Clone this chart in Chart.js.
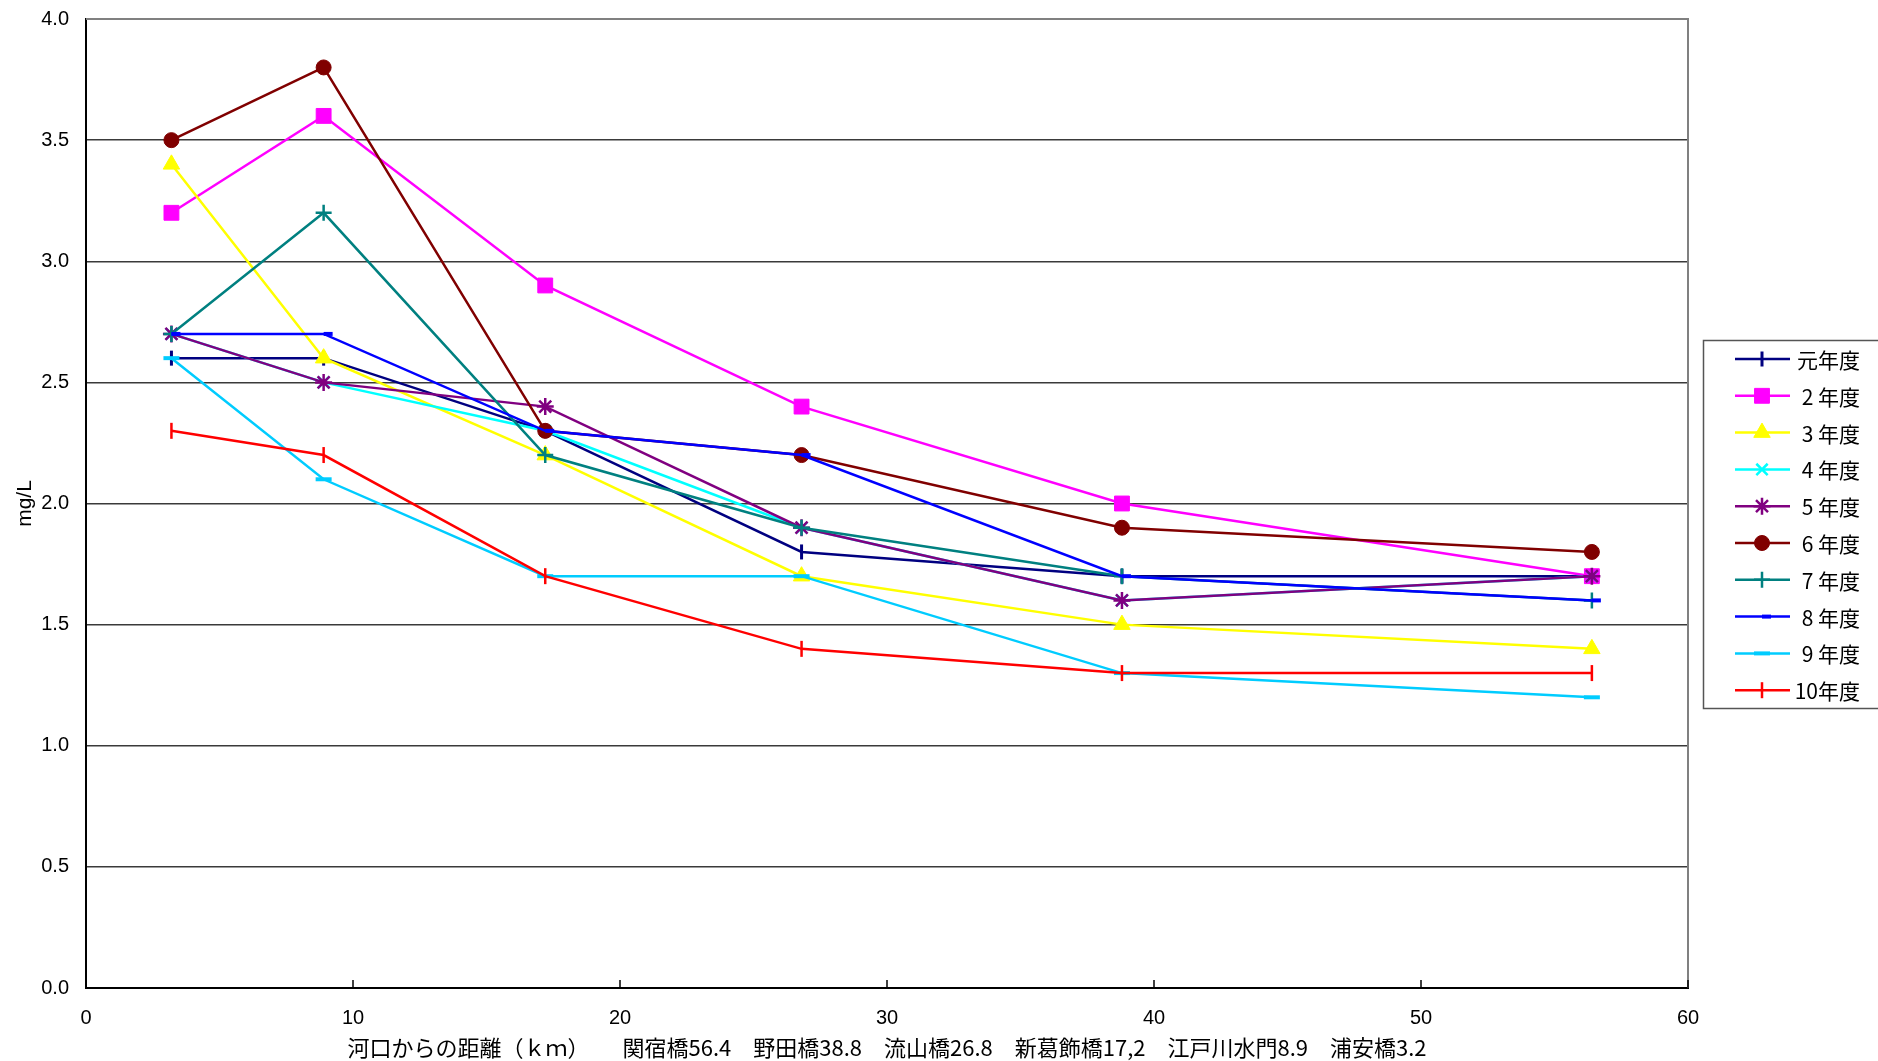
<!DOCTYPE html>
<html><head><meta charset="utf-8">
<script src="https://cdn.jsdelivr.net/npm/chart.js@4/dist/chart.umd.min.js"></script>
<style>html,body{margin:0;padding:0;background:#fff;}canvas{display:block;}</style>
</head><body>
<canvas id="c" width="1878" height="1061"></canvas>
<script>
// distance from river mouth (km) for each station
const distances = [3.2, 8.9, 17.2, 26.8, 38.8, 56.4];
const seriesNames = ['元年度', '2 年度', '3 年度', '4 年度', '5 年度', '6 年度', '7 年度', '8 年度', '9 年度', '10年度'];
const y01 = [2.6, 2.6, 2.3, 1.8, 1.7, 1.7];
const y02 = [3.2, 3.6, 2.9, 2.4, 2.0, 1.7];
const y03 = [3.4, 2.6, 2.2, 1.7, 1.5, 1.4];
const y04 = [2.7, 2.5, 2.3, 1.9, 1.6, 1.7];
const y05 = [2.7, 2.5, 2.4, 1.9, 1.6, 1.7];
const y06 = [3.5, 3.8, 2.3, 2.2, 1.9, 1.8];
const y07 = [2.7, 3.2, 2.2, 1.9, 1.7, 1.6];
const y08 = [2.7, 2.7, 2.3, 2.2, 1.7, 1.6];
const y09 = [2.6, 2.1, 1.7, 1.7, 1.3, 1.2];
const y10 = [2.3, 2.2, 1.7, 1.4, 1.3, 1.3];
const seriesValues = [y01, y02, y03, y04, y05, y06, y07, y08, y09, y10];
const yAxisTitle = 'mg/L';
const xAxisTitle = '河口からの距離（ｋｍ）　　関宿橋56.4　野田橋38.8　流山橋26.8　新葛飾橋17,2　江戸川水門8.9　浦安橋3.2';

const colors = ['#000080', '#FF00FF', '#FFFF00', '#00FFFF', '#800080', '#800000', '#008080', '#0000FF', '#00CCFF', '#FF0000'];
const markers = [
  {pointStyle: 'line', rotation: 90, radius: 7.5, bw: 3},
  {pointStyle: 'rect', rotation: 0, radius: 10.5, bw: 1},
  {pointStyle: 'triangle', rotation: 0, radius: 9.5, bw: 1},
  {pointStyle: 'crossRot', rotation: 0, radius: 8, bw: 2.5},
  {pointStyle: 'star', rotation: 0, radius: 8.5, bw: 2.5},
  {pointStyle: 'circle', rotation: 0, radius: 7.5, bw: 1},
  {pointStyle: 'cross', rotation: 0, radius: 8, bw: 2.5},
  {pointStyle: 'dash', rotation: 0, radius: 9, bw: 4},
  {pointStyle: 'line', rotation: 0, radius: 8, bw: 4},
  {pointStyle: 'line', rotation: 90, radius: 8, bw: 2.5}
];

const N = seriesNames.length;
const datasets = seriesNames.map((name, i) => ({
  label: name,
  data: distances.map((d, j) => ({x: d, y: seriesValues[i][j]})),
  borderColor: colors[i],
  backgroundColor: colors[i],
  borderWidth: 2.5,
  showLine: true,
  tension: 0,
  pointStyle: markers[i].pointStyle,
  rotation: markers[i].rotation,
  pointRadius: markers[i].radius,
  pointBorderWidth: markers[i].bw,
  pointBorderColor: colors[i],
  pointBackgroundColor: colors[i],
  order: N - 1 - i
}));

const framePlugin = {
  id: 'frame',
  beforeDatasetsDraw(chart) {
    const {ctx, chartArea: a, scales: {x}} = chart;
    ctx.save();
    ctx.strokeStyle = '#808080';
    ctx.lineWidth = 2;
    ctx.beginPath();
    ctx.moveTo(a.left, a.top);
    ctx.lineTo(a.right, a.top);
    ctx.lineTo(a.right, a.bottom);
    ctx.stroke();
    ctx.strokeStyle = '#000';
    ctx.lineWidth = 1.5;
    x.ticks.forEach(t => {
      const px = x.getPixelForValue(t.value);
      ctx.beginPath();
      ctx.moveTo(px, a.bottom);
      ctx.lineTo(px, a.bottom - 8);
      ctx.stroke();
    });
    ctx.restore();
  }
};

const legendPlugin = {
  id: 'customLegend',
  afterDraw(chart) {
    const ctx = chart.ctx;
    ctx.save();
    ctx.fillStyle = '#fff';
    ctx.fillRect(1703, 340, 200, 368);
    ctx.strokeStyle = '#555';
    ctx.lineWidth = 1.5;
    ctx.strokeRect(1703.5, 340.5, 200, 368);
    chart.data.datasets.forEach((ds, i) => {
      const y = 359 + i * 36.8;
      ctx.strokeStyle = ds.borderColor;
      ctx.lineWidth = 2.5;
      ctx.beginPath();
      ctx.moveTo(1735, y);
      ctx.lineTo(1790, y);
      ctx.stroke();
      ctx.strokeStyle = ds.borderColor;
      ctx.fillStyle = ds.backgroundColor;
      ctx.lineWidth = ds.pointBorderWidth;
      Chart.helpers.drawPoint(ctx, {pointStyle: ds.pointStyle, radius: ds.pointRadius, rotation: ds.rotation, borderWidth: ds.pointBorderWidth}, 1762, y);
      ctx.fillStyle = '#000';
      ctx.font = '21px "Noto Sans CJK JP", "Noto Sans", sans-serif';
      ctx.textAlign = 'right';
      ctx.textBaseline = 'middle';
      ctx.fillText(ds.label, 1860, y + 1);
    });
    ctx.restore();
  }
};

new Chart(document.getElementById('c'), {
  type: 'scatter',
  data: {datasets},
  plugins: [framePlugin, legendPlugin],
  options: {
    responsive: false,
    devicePixelRatio: 1,
    animation: false,
    layout: {padding: {top: 19, right: 190, left: 0, bottom: 0}},
    plugins: {legend: {display: false}, tooltip: {enabled: false}},
    scales: {
      x: {
        type: 'linear', min: 0, max: 60,
        afterFit(s) { s.height = 73; s.paddingLeft = 0; s.paddingRight = 0; },
        ticks: {stepSize: 10, padding: 18, color: '#000', font: {family: '"Liberation Sans", Arial, sans-serif', size: 20}},
        grid: {display: true, drawOnChartArea: false, drawTicks: false},
        border: {color: '#000', width: 2},
        title: {display: true, text: xAxisTitle, color: '#000', font: {family: '"Noto Sans CJK JP", sans-serif', size: 22, lineHeight: 1.2}, padding: {top: 0, bottom: 0}}
      },
      y: {
        type: 'linear', min: 0, max: 4,
        afterFit(s) { s.width = 86; s.paddingTop = 0; s.paddingBottom = 0; },
        ticks: {stepSize: 0.5, padding: 17, color: '#000', callback: v => v.toFixed(1), font: {family: '"Liberation Sans", Arial, sans-serif', size: 20}},
        grid: {color: c => (c.tick && c.tick.value === 4) ? '#808080' : '#3a3a3a', lineWidth: 1.5, drawTicks: false},
        border: {color: '#000', width: 2},
        title: {display: true, text: yAxisTitle, color: '#000', font: {family: '"Liberation Sans", Arial, sans-serif', size: 21, lineHeight: 1.2}, padding: {top: 13, bottom: 0}}
      }
    }
  }
});
</script>
</body></html>
